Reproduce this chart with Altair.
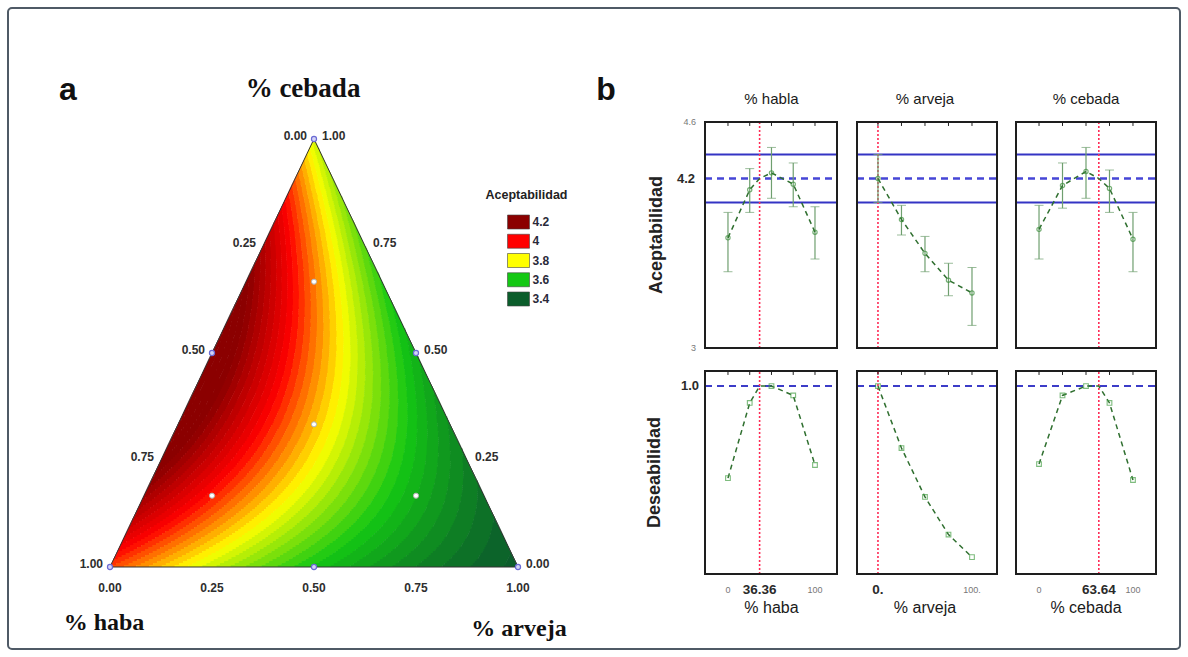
import altair as alt
import numpy as np
import pandas as pd

# ------------------------------------------------------------------ data
# (a) mixture surface: quadratic Scheffe model, coefficients estimated from the contour colours
COEF_LINEAR = [3.95, 3.39, 3.76]        # haba, arveja, cebada
COEF_CROSS = [-0.30, 1.75, -0.085]      # haba*arveja, haba*cebada, arveja*cebada
CONTOUR_STEP = 0.025

LEGEND_VALUES = [4.2, 4.0, 3.8, 3.6, 3.4]
LEGEND_LABELS = ["4.2", "4", "3.8", "3.6", "3.4"]
LEGEND_COLORS = ["#8b0000", "#ff0000", "#ffff00", "#14c814", "#0b5d2b"]

DESIGN_HABA = [1, 0, 0, 0.5, 0.5, 0, 1 / 3, 2 / 3, 1 / 6, 1 / 6]
DESIGN_ARVEJA = [0, 1, 0, 0.5, 0, 0.5, 1 / 3, 1 / 6, 2 / 3, 1 / 6]
DESIGN_CEBADA = [0, 0, 1, 0, 0.5, 0.5, 1 / 3, 1 / 6, 1 / 6, 2 / 3]

TERN_TICKS = [0.0, 0.25, 0.5, 0.75, 1.0]
TERN_TICK_LABELS = ["0.00", "0.25", "0.50", "0.75", "1.00"]

# (b) trace plots
TRACE_X = [0, 25, 50, 75, 100]
ACEPT_HABA = [3.78, 4.12, 4.24, 4.16, 3.82]
ACEPT_HABA_LOW = [3.54, 3.96, 4.06, 4.00, 3.63]
ACEPT_HABA_HIGH = [3.96, 4.27, 4.42, 4.31, 4.00]
ACEPT_ARVEJA = [4.20, 3.91, 3.67, 3.48, 3.39]
ACEPT_ARVEJA_LOW = [4.03, 3.80, 3.54, 3.37, 3.16]
ACEPT_ARVEJA_HIGH = [4.37, 4.01, 3.79, 3.60, 3.57]
ACEPT_CEBADA = [3.84, 4.15, 4.25, 4.13, 3.77]
ACEPT_CEBADA_LOW = [3.63, 3.99, 4.06, 3.96, 3.54]
ACEPT_CEBADA_HIGH = [4.01, 4.31, 4.42, 4.26, 3.96]
DESEAB_HABA = [0.51, 0.91, 1.00, 0.95, 0.58]
DESEAB_ARVEJA = [1.00, 0.67, 0.41, 0.21, 0.09]
DESEAB_CEBADA = [0.585, 0.95, 1.00, 0.91, 0.50]

FACTORS = ["haba", "arveja", "cebada"]
TOP_TITLES = ["% habla", "% arveja", "% cebada"]
BOTTOM_TITLES = ["% haba", "% arveja", "% cebada"]
OPTIMUM = [36.36, 0.0, 63.64]
OPTIMUM_LABELS = ["36.36", "0.", "63.64"]
END_TICKS = [[0, 100], [100], [0, 100]]
END_LABELS = [["0", "100"], ["100."], ["0", "100"]]
ACEPT_TARGET = 4.2
ACEPT_LIMITS = [4.03, 4.37]
ACEPT_AXIS_TICKS = [4.6, 3.0]
ACEPT_AXIS_LABELS = ["4.6", "3"]
DESEAB_TARGET = 1.0

ACEPT = {"haba": ACEPT_HABA, "arveja": ACEPT_ARVEJA, "cebada": ACEPT_CEBADA}
ACEPT_LOW = {"haba": ACEPT_HABA_LOW, "arveja": ACEPT_ARVEJA_LOW, "cebada": ACEPT_CEBADA_LOW}
ACEPT_HIGH = {"haba": ACEPT_HABA_HIGH, "arveja": ACEPT_ARVEJA_HIGH, "cebada": ACEPT_CEBADA_HIGH}
DESEAB = {"haba": DESEAB_HABA, "arveja": DESEAB_ARVEJA, "cebada": DESEAB_CEBADA}

# ------------------------------------------------------------------ layout (pixels)
PAD = 8
W, H = 1188 - 2 * PAD, 657 - 2 * PAD


def px(v):
    return v - PAD


def S(dom, rng):
    return alt.Scale(domain=list(dom), range=[px(rng[0]), px(rng[1])], nice=False, zero=False)


TX = S([0, 1], [110, 518])
TY = S([0, 1], [567, 139])
LX = S([0, 1], [518.5, 600])
LY = S([4.2, 3.4], [222, 299])
PANEL_X = {"haba": (705, 837), "arveja": (857, 997), "cebada": (1016, 1156)}
PANEL_XDOM = {"haba": (-26.4, 125.3), "arveja": (-22.3, 126.6), "cebada": (-24.5, 124.5)}
UP_DOM, UP_PX = (3.0, 4.6), (348, 122)
LO_DOM, LO_PX = (0.0, 1.08), (574, 371)

SANS = "Liberation Sans"
SERIF = "Liberation Serif"
GREEN_LINE = "#2f6f2f"
GREEN_PT = "#3d8f3d"
GREEN_BAR = "#6f9f6f"
GREEN_SQ = "#48a048"
BLUE = "#3434c4"
RED = "#ff2a55"
FRAME = "#1e1e1e"


# ------------------------------------------------------------------ (a) surface
def acceptability(h, a, c):
    b1, b2, b3 = COEF_LINEAR
    b12, b13, b23 = COEF_CROSS
    return b1 * h + b2 * a + b3 * c + b12 * h * a + b13 * h * c + b23 * a * c


NROW, NSAMP = 214, 800
base = LEGEND_VALUES[-1]
cells = []
for r in range(NROW):
    c0, c1 = r / NROW, (r + 1) / NROW
    cm = 0.5 * (c0 + c1)
    xl, xr = cm / 2, 1 - cm / 2
    n = max(4, int(NSAMP * (xr - xl)))
    xs = np.linspace(xl, xr, n)
    a = np.clip(xs - cm / 2, 0, 1)
    h = np.clip(1 - a - cm, 0, 1)
    k = np.floor((acceptability(h, a, cm) - base) / CONTOUR_STEP).astype(int)
    brk = np.flatnonzero(np.diff(k))
    starts = np.r_[0, brk + 1]
    ends = np.r_[brk, n - 1]
    for s, e in zip(starts, ends):
        x0 = xl if s == 0 else 0.5 * (xs[s - 1] + xs[s])
        x1 = xr if e == n - 1 else 0.5 * (xs[e] + xs[e + 1]) + 0.0012
        cells.append((round(x0, 5), round(x1, 5), round(c0, 5), round(min(c1 + 0.0012, 1.0), 5),
                      round(base + (k[s] + 0.5) * CONTOUR_STEP, 4)))
heat_df = pd.DataFrame(cells, columns=["x0", "x1", "y0", "y1", "v"])

COLOR_SCALE = alt.Scale(domain=sorted(LEGEND_VALUES), range=LEGEND_COLORS[::-1],
                        interpolate="rgb", clamp=True)

layers = []
layers.append(
    alt.Chart(heat_df).mark_rect().encode(
        x=alt.X("x0:Q", scale=TX, axis=None), x2="x1:Q",
        y=alt.Y("y0:Q", scale=TY, axis=None), y2="y1:Q",
        color=alt.Color("v:Q", scale=COLOR_SCALE, legend=None),
    )
)

tri_df = pd.DataFrame({"X": [0, 1, 0.5, 0], "Y": [0, 0, 1, 0], "o": [0, 1, 2, 3]})
layers.append(
    alt.Chart(tri_df).mark_line(color="#333333", strokeWidth=1).encode(
        x=alt.X("X:Q", scale=TX, axis=None), y=alt.Y("Y:Q", scale=TY, axis=None), order="o:Q"
    )
)

des = pd.DataFrame({"h": DESIGN_HABA, "a": DESIGN_ARVEJA, "c": DESIGN_CEBADA})
des["X"] = des["a"] + des["c"] / 2
des["Y"] = des["c"]
des["interior"] = (des[["h", "a", "c"]] > 0).all(axis=1)
layers.append(
    alt.Chart(des[~des["interior"]]).mark_point(shape="circle", filled=True, size=26, fill="#d4d4f6",
                                                stroke="#6a6ad4", strokeWidth=1.2, opacity=1).encode(
        x=alt.X("X:Q", scale=TX, axis=None), y=alt.Y("Y:Q", scale=TY, axis=None))
)
layers.append(
    alt.Chart(des[des["interior"]]).mark_point(shape="circle", filled=True, size=26, fill="white",
                                               stroke="#b0b0b0", strokeWidth=1, opacity=1).encode(
        x=alt.X("X:Q", scale=TX, axis=None), y=alt.Y("Y:Q", scale=TY, axis=None))
)

# ternary tick labels
t = np.array(TERN_TICKS)
left_df = pd.DataFrame({"X": (1 - t) / 2, "Y": 1 - t, "lab": TERN_TICK_LABELS})
right_df = pd.DataFrame({"X": 1 - t / 2, "Y": t, "lab": TERN_TICK_LABELS})
bottom_df = pd.DataFrame({"X": t, "Y": 0 * t, "lab": TERN_TICK_LABELS})
tick_style = dict(font=SANS, fontSize=12, fontWeight="bold", color="#2e2e2e", baseline="middle")
for df_, extra in ((left_df, dict(align="right", dx=-7, dy=-3)),
                   (right_df, dict(align="left", dx=8, dy=-3)),
                   (bottom_df, dict(align="center", dy=21))):
    layers.append(
        alt.Chart(df_).mark_text(**tick_style, **extra).encode(
            x=alt.X("X:Q", scale=TX, axis=None), y=alt.Y("Y:Q", scale=TY, axis=None), text="lab:N")
    )

one = pd.DataFrame({"k": [0]})


def tern_text(txt, X, Y, **kw):
    return alt.Chart(one).mark_text(text=txt, **kw).encode(
        x=alt.XDatum(X, scale=TX, axis=None), y=alt.YDatum(Y, scale=TY, axis=None))


layers.append(tern_text("% cebada", 0.5, 1.0, font=SERIF, fontSize=27, fontWeight="bold",
                        color="#111111", align="center", baseline="alphabetic", dx=-11, dy=-42))
layers.append(tern_text("% haba", 0.0, 0.0, font=SERIF, fontSize=24, fontWeight="bold",
                        color="#111111", align="center", baseline="alphabetic", dx=-6, dy=63))
layers.append(tern_text("% arveja", 1.0, 0.0, font=SERIF, fontSize=24, fontWeight="bold",
                        color="#111111", align="center", baseline="alphabetic", dx=1, dy=69))
layers.append(tern_text("a", 0.5, 1.0, font=SANS, fontSize=32, fontWeight="bold",
                        color="#111111", align="center", baseline="alphabetic", dx=-246, dy=-39))

# legend
leg_df = pd.DataFrame({"v": LEGEND_VALUES, "lab": LEGEND_LABELS, "col": LEGEND_COLORS})
layers.append(
    alt.Chart(leg_df).mark_rect(width=22, height=14, stroke="#444444", strokeWidth=0.6).encode(
        x=alt.XDatum(0, scale=LX, axis=None), y=alt.Y("v:Q", scale=LY, axis=None),
        fill=alt.Fill("col:N", scale=None))
)
layers.append(
    alt.Chart(leg_df).mark_text(font=SANS, fontSize=12, fontWeight="bold", color="#2a2a3a",
                                align="left", baseline="middle", dx=14).encode(
        x=alt.XDatum(0, scale=LX, axis=None), y=alt.Y("v:Q", scale=LY, axis=None), text="lab:N")
)
layers.append(
    alt.Chart(one).mark_text(text="Aceptabilidad", font=SANS, fontSize=12.5, fontWeight="bold",
                             color="#222222", align="center", baseline="middle", dx=8, dy=-27).encode(
        x=alt.XDatum(0, scale=LX, axis=None), y=alt.YDatum(LEGEND_VALUES[0], scale=LY, axis=None))
)

# ------------------------------------------------------------------ (b) trace plots
frames = []
for i, key in enumerate(FACTORS):
    xd = PANEL_XDOM[key]
    xsc = S(xd, PANEL_X[key])
    ysu = S(UP_DOM, UP_PX)
    ysl = S(LO_DOM, LO_PX)
    opt = OPTIMUM[i]

    pts = pd.DataFrame({"x": TRACE_X, "y": ACEPT[key], "lo": ACEPT_LOW[key], "hi": ACEPT_HIGH[key],
                        "d": DESEAB[key]})
    line_u = pd.DataFrame({"x": TRACE_X + ([opt] if opt not in TRACE_X else []),
                           "y": ACEPT[key] + ([ACEPT_TARGET] if opt not in TRACE_X else [])})
    line_l = pd.DataFrame({"x": TRACE_X + ([opt] if opt not in TRACE_X else []),
                           "d": DESEAB[key] + ([DESEAB_TARGET] if opt not in TRACE_X else [])})

    X = lambda f: alt.X(f, scale=xsc, axis=None)
    XD = lambda v: alt.XDatum(v, scale=xsc, axis=None)
    YU = lambda f: alt.Y(f, scale=ysu, axis=None)
    YUD = lambda v: alt.YDatum(v, scale=ysu, axis=None)
    YL = lambda f: alt.Y(f, scale=ysl, axis=None)
    YLD = lambda v: alt.YDatum(v, scale=ysl, axis=None)

    # horizontal reference lines
    layers.append(alt.Chart(pd.DataFrame({"y": ACEPT_LIMITS})).mark_rule(color=BLUE, strokeWidth=2).encode(
        x=XD(xd[0]), x2=alt.X2Datum(xd[1]), y=YU("y:Q")))
    layers.append(alt.Chart(one).mark_rule(color="#4646d6", strokeWidth=2.5, strokeDash=[7, 5]).encode(
        x=XD(xd[0]), x2=alt.X2Datum(xd[1]), y=YUD(ACEPT_TARGET)))
    layers.append(alt.Chart(one).mark_rule(color="#3c3cc8", strokeWidth=2, strokeDash=[7, 5]).encode(
        x=XD(xd[0]), x2=alt.X2Datum(xd[1]), y=YLD(DESEAB_TARGET)))
    # optimum (red dotted)
    layers.append(alt.Chart(one).mark_rule(color=RED, strokeWidth=1.6, strokeDash=[2, 2]).encode(
        x=XD(opt), y=YUD(UP_DOM[0]), y2=alt.Y2Datum(UP_DOM[1])))
    layers.append(alt.Chart(one).mark_rule(color=RED, strokeWidth=1.6, strokeDash=[2, 2]).encode(
        x=XD(opt), y=YLD(LO_DOM[0]), y2=alt.Y2Datum(LO_DOM[1])))
    # error bars
    layers.append(alt.Chart(pts).mark_rule(color=GREEN_BAR, strokeWidth=1.2).encode(
        x=X("x:Q"), y=YU("lo:Q"), y2="hi:Q"))
    for f in ("lo", "hi"):
        layers.append(alt.Chart(pts).mark_tick(orient="horizontal", size=9, thickness=1,
                                               color=GREEN_BAR).encode(x=X("x:Q"), y=YU(f"{f}:Q")))
    # traces
    layers.append(alt.Chart(line_u).mark_line(color=GREEN_LINE, strokeWidth=1.5, strokeDash=[5, 4]).encode(
        x=X("x:Q"), y=YU("y:Q")))
    layers.append(alt.Chart(pts).mark_point(shape="circle", size=18, filled=False, color=GREEN_PT,
                                            strokeWidth=1.2).encode(x=X("x:Q"), y=YU("y:Q")))
    layers.append(alt.Chart(line_l).mark_line(color=GREEN_LINE, strokeWidth=1.5, strokeDash=[5, 4]).encode(
        x=X("x:Q"), y=YL("d:Q")))
    layers.append(alt.Chart(pts).mark_point(shape="square", size=22, filled=False, color=GREEN_SQ,
                                            strokeWidth=1.1).encode(x=X("x:Q"), y=YL("d:Q")))
    # small ticks along the top edge
    layers.append(alt.Chart(pts).mark_rule(color="#222222", strokeWidth=1).encode(
        x=X("x:Q"), y=YUD(UP_DOM[1]), y2=alt.Y2Datum(UP_DOM[1] - 0.028)))
    layers.append(alt.Chart(pts).mark_rule(color="#222222", strokeWidth=1).encode(
        x=X("x:Q"), y=YLD(LO_DOM[1]), y2=alt.Y2Datum(LO_DOM[1] - 0.021)))
    # frames (drawn last)
    frames.append(alt.Chart(one).mark_rect(fillOpacity=0, stroke=FRAME, strokeWidth=2).encode(
        x=XD(xd[0]), x2=alt.X2Datum(xd[1]), y=YUD(UP_DOM[0]), y2=alt.Y2Datum(UP_DOM[1])))
    frames.append(alt.Chart(one).mark_rect(fillOpacity=0, stroke=FRAME, strokeWidth=2).encode(
        x=XD(xd[0]), x2=alt.X2Datum(xd[1]), y=YLD(LO_DOM[0]), y2=alt.Y2Datum(LO_DOM[1])))

    # x tick labels
    layers.append(alt.Chart(one).mark_text(text=OPTIMUM_LABELS[i], font=SANS, fontSize=13.5,
                                           fontWeight="bold", color="#2a2a2a", baseline="middle",
                                           dy=16).encode(x=XD(opt), y=YLD(LO_DOM[0])))
    end_df = pd.DataFrame({"x": END_TICKS[i], "lab": END_LABELS[i]})
    layers.append(alt.Chart(end_df).mark_text(font=SANS, fontSize=9, color="#777777", baseline="middle",
                                              dy=16).encode(x=X("x:Q"), y=YLD(LO_DOM[0]), text="lab:N"))
    # titles
    layers.append(alt.Chart(one).mark_text(text=TOP_TITLES[i], font=SANS, fontSize=15, color="#1a1a1a",
                                           baseline="middle", dy=-23).encode(x=XD(50), y=YUD(UP_DOM[1])))
    layers.append(alt.Chart(one).mark_text(text=BOTTOM_TITLES[i], font=SANS, fontSize=16, color="#1a1a1a",
                                           baseline="middle", dy=34).encode(x=XD(50), y=YLD(LO_DOM[0])))

    if i == 0:
        ax_df = pd.DataFrame({"y": ACEPT_AXIS_TICKS, "lab": ACEPT_AXIS_LABELS})
        layers.append(alt.Chart(ax_df).mark_text(font=SANS, fontSize=9, color="#777777", align="right",
                                                 baseline="middle", dx=-9).encode(
            x=XD(xd[0]), y=YU("y:Q"), text="lab:N"))
        layers.append(alt.Chart(one).mark_text(text="4.2", font=SANS, fontSize=13, fontWeight="bold",
                                               color="#2a2a2a", align="right", baseline="middle",
                                               dx=-10).encode(x=XD(xd[0]), y=YUD(ACEPT_TARGET)))
        layers.append(alt.Chart(one).mark_text(text="1.0", font=SANS, fontSize=13, fontWeight="bold",
                                               color="#2a2a2a", align="right", baseline="middle",
                                               dx=-6).encode(x=XD(xd[0]), y=YLD(DESEAB_TARGET)))
        layers.append(alt.Chart(one).mark_text(text="Aceptabilidad", font=SANS, fontSize=18,
                                               fontWeight="bold", color="#222222", angle=270,
                                               align="center", baseline="middle", dy=-48).encode(
            x=XD(xd[0]), y=YUD(3.8)))
        layers.append(alt.Chart(one).mark_text(text="Deseabilidad", font=SANS, fontSize=18,
                                               fontWeight="bold", color="#222222", angle=270,
                                               align="center", baseline="middle", dy=-50).encode(
            x=XD(xd[0]), y=YLD(0.54)))
        layers.append(alt.Chart(one).mark_text(text="b", font=SANS, fontSize=32, fontWeight="bold",
                                               color="#111111", align="center", baseline="alphabetic",
                                               dx=-99, dy=-22).encode(x=XD(xd[0]), y=YUD(UP_DOM[1])))

chart = (
    alt.layer(*layers, *frames)
    .resolve_scale(x="independent", y="independent", color="independent", fill="independent")
    .properties(width=W, height=H, padding={"left": PAD, "top": PAD, "right": PAD, "bottom": PAD},
                autosize="none", background="white")
    .configure_view(stroke="#4f5a66", strokeWidth=2, cornerRadius=4)
)

chart.save("out.html", embed_options={"renderer": "svg", "actions": False})
